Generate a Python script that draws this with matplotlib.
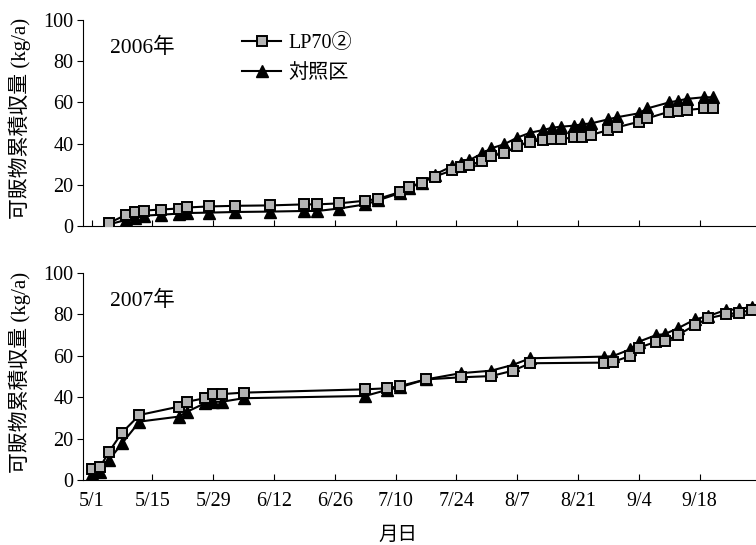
import numpy as np
import pandas as pd
import matplotlib
matplotlib.use("Agg")
import matplotlib.pyplot as plt

plt.rcParams['font.family'] = ['Liberation Serif', 'Noto Sans CJK JP', 'DejaVu Sans']

#2006 harvest dates and cumulative marketable yield (kg/a)
dates2006 = ["5/5", "5/9", "5/11", "5/13", "5/17", "5/21", "5/23", "5/28", "6/3", "6/11",
             "6/19", "6/22", "6/27", "7/3", "7/6", "7/11", "7/13", "7/16", "7/19", "7/23",
             "7/25", "7/27", "7/30", "8/1", "8/4", "8/7", "8/10", "8/13", "8/15", "8/17",
             "8/20", "8/22", "8/24", "8/28", "8/30", "9/4", "9/6", "9/11", "9/13", "9/15",
             "9/19", "9/21"]
lp70_2006 = [1.5, 5.5, 7.0, 7.5, 8.0, 8.5, 9.0, 9.5, 9.8, 10.0,
             10.5, 10.5, 11.0, 12.3, 13.2, 16.5, 19.0, 21.0, 24.0, 27.0,
             28.5, 29.5, 31.7, 34.0, 35.3, 38.8, 40.9, 41.7, 42.1, 42.1,
             43.1, 43.4, 44.2, 46.6, 47.9, 50.6, 52.3, 55.5, 56.0, 56.3,
             57.1, 57.1]
ctrl_2006 = [0.8, 3.0, 4.0, 5.0, 5.5, 6.0, 6.3, 6.5, 6.8, 7.0,
             7.3, 7.3, 8.5, 10.5, 12.5, 16.0, 18.5, 21.0, 25.0, 29.0,
             30.5, 32.0, 35.3, 37.7, 39.7, 42.9, 45.3, 46.6, 47.7, 48.2,
             48.7, 49.4, 49.8, 51.8, 52.8, 54.7, 57.1, 60.0, 60.8, 61.7,
             62.5, 62.5]

#2007
dates2007 = ["5/1", "5/3", "5/5", "5/8", "5/12", "5/21", "5/23", "5/27", "5/29", "5/31",
             "6/5", "7/3", "7/8", "7/11", "7/17", "7/25", "8/1", "8/6", "8/10", "8/27",
             "8/29", "9/2", "9/4", "9/8", "9/10", "9/13", "9/17", "9/20", "9/24", "9/27",
             "9/30"]
lp70_2007 = [5.5, 6.5, 13.7, 22.9, 31.4, 35.4, 37.8, 39.5, 41.5, 41.5,
             42.2, 43.8, 44.3, 45.4, 48.6, 49.6, 50.2, 52.8, 56.4, 56.7,
             57.0, 59.9, 63.9, 66.8, 67.1, 70.0, 74.9, 78.1, 80.0, 80.8,
             82.1]
ctrl_2007 = [3.0, 4.0, 9.7, 17.7, 28.2, 30.6, 33.0, 37.0, 37.8, 37.8,
             39.5, 40.6, 43.5, 44.8, 48.6, 51.6, 52.8, 55.6, 58.8, 59.6,
             59.8, 63.1, 66.8, 70.0, 70.5, 73.3, 77.6, 79.2, 82.1, 82.5,
             83.7]

tickDates = ["5/1", "5/15", "5/29", "6/12", "6/26", "7/10", "7/24", "8/7", "8/21", "9/4", "9/18"]


def toDays(dates, year):
    #days since 5/1 of that year
    d = pd.to_datetime(["%d/%s" % (year, s) for s in dates], format="%Y/%m/%d")
    return (d - pd.Timestamp(year, 5, 1)).days.values


fig = plt.figure(figsize=(7.56, 5.45), dpi=100)
ax1 = fig.add_axes([0.1098, 0.5853, 0.8902, 0.378])
ax2 = fig.add_axes([0.1098, 0.1193, 0.8902, 0.3798])

panels = [(ax1, 2006, dates2006, lp70_2006, ctrl_2006),
          (ax2, 2007, dates2007, lp70_2007, ctrl_2007)]

for ax, year, dates, lp, ctrl in panels:
    x = toDays(dates, year)
    ax.plot(x, ctrl, color='black', lw=1.5, marker='^', ms=9,
            mfc='black', mec='black', label='対照区', zorder=3)
    ax.plot(x, lp, color='black', lw=1.5, marker='s', ms=7,
            mfc='#b4b4b4', mec='black', mew=1.4, label='LP70②', zorder=4)

    ax.set_xlim(-2, 153)
    ax.set_ylim(0, 100)
    ax.set_yticks(np.arange(0, 101, 20))
    ax.set_xticks(toDays(tickDates, year))
    ax.spines['top'].set_visible(False)
    ax.spines['right'].set_visible(False)
    ax.tick_params(axis='x', direction='in', length=4)
    ax.tick_params(axis='y', direction='out', length=4, labelsize=14.5, pad=3)
    ax.set_ylabel("可販物累積収量 (kg/a)", fontsize=15)
    ax.yaxis.set_label_coords(-0.077, 0.52)
    ax.text(0.04, 0.865, "%d年" % year, transform=ax.transAxes,
            fontsize=15.5, va='center', ha='left')

ax1.set_xticklabels([])
ax2.set_xticklabels(tickDates, fontsize=14.5)
ax2.tick_params(axis='x', pad=9)
ax2.set_xlabel("月日", fontsize=14)
ax2.xaxis.set_label_coords(0.468, -0.225)

h, l = ax1.get_legend_handles_labels()
ax1.legend(h[::-1], l[::-1], loc='upper left', bbox_to_anchor=(0.21, 1.02),
           frameon=False, fontsize=14.5, handlelength=1.9, handletextpad=0.4,
           labelspacing=0.55)

fig.savefig("out.png", dpi=100)
